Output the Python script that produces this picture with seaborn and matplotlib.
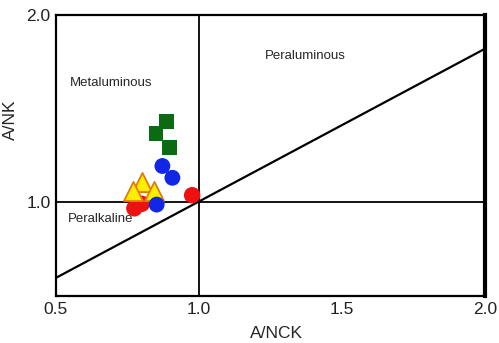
import matplotlib
matplotlib.use("Agg")
import matplotlib.pyplot as plt
import seaborn as sns
import pandas as pd

sns.set_theme(style="white")
plt.rcParams["font.family"] = ["Liberation Sans", "DejaVu Sans"]

# Sample groups on the A/NCK vs A/NK diagram
square_x = [0.887, 0.849, 0.896]
square_y = [1.432, 1.367, 1.292]
blue_x = [0.872, 0.907, 0.852]
blue_y = [1.194, 1.131, 0.988]
red_x = [0.774, 0.800, 0.976]
red_y = [0.968, 0.992, 1.038]
tri_x = [0.800, 0.770, 0.844]
tri_y = [1.108, 1.062, 1.058]

# Boundary lines
diag_x = [0.5, 2.0]
diag_y = [0.597, 1.82]

fig = plt.figure(figsize=(4.99, 3.43), dpi=100)
ax = fig.add_axes([56 / 499, 47 / 343, 429 / 499, 281 / 343])

ax.plot(diag_x, diag_y, color="black", lw=1.6, zorder=1)
ax.axvline(1.0, color="black", lw=1.3, zorder=1)
ax.axhline(1.0, color="black", lw=1.3, zorder=1)

df_sq = pd.DataFrame({"x": square_x, "y": square_y})
df_bl = pd.DataFrame({"x": blue_x, "y": blue_y})
df_rd = pd.DataFrame({"x": red_x, "y": red_y})
df_tr = pd.DataFrame({"x": tri_x, "y": tri_y})

sns.scatterplot(data=df_sq, x="x", y="y", marker="s", s=110, color="#0b6b12",
                edgecolor="none", ax=ax, zorder=3)
sns.scatterplot(data=df_rd, x="x", y="y", marker="o", s=140, color="#ee1111",
                edgecolor="none", ax=ax, zorder=3)
sns.scatterplot(data=df_tr, x="x", y="y", marker="^", s=190, color="#ffee00",
                edgecolor="#e07a10", linewidth=1.3, ax=ax, zorder=4)
sns.scatterplot(data=df_bl, x="x", y="y", marker="o", s=130, color="#1226e6",
                edgecolor="none", ax=ax, zorder=5)

ax.text(0.549, 1.636, "Metaluminous", fontsize=9.5, va="center", ha="left")
ax.text(1.231, 1.781, "Peraluminous", fontsize=9.5, va="center", ha="left")
ax.text(0.541, 0.909, "Peralkaline", fontsize=9.5, va="center", ha="left")

ax.set_xlim(0.5, 2.0)
ax.set_ylim(0.5, 2.0)
ax.set_xticks([0.5, 1.0, 1.5, 2.0])
ax.set_xticklabels(["0.5", "1.0", "1.5", "2.0"])
ax.set_yticks([1.0, 2.0])
ax.set_yticklabels(["1.0", "2.0"])
ax.tick_params(axis="both", labelsize=12.5, length=0, pad=4, colors="#222222")
ax.set_xlabel("A/NCK", fontsize=12.5)
ax.set_ylabel("A/NK", fontsize=12.5)
ax.xaxis.set_label_coords(0.513, -0.105)
ax.yaxis.set_label_coords(-0.089, 0.626)

for side in ["left", "bottom", "top"]:
    ax.spines[side].set_color("black")
    ax.spines[side].set_linewidth(1.6)
ax.spines["right"].set_color("black")
ax.spines["right"].set_linewidth(3.0)

fig.savefig("out.png", dpi=100)
